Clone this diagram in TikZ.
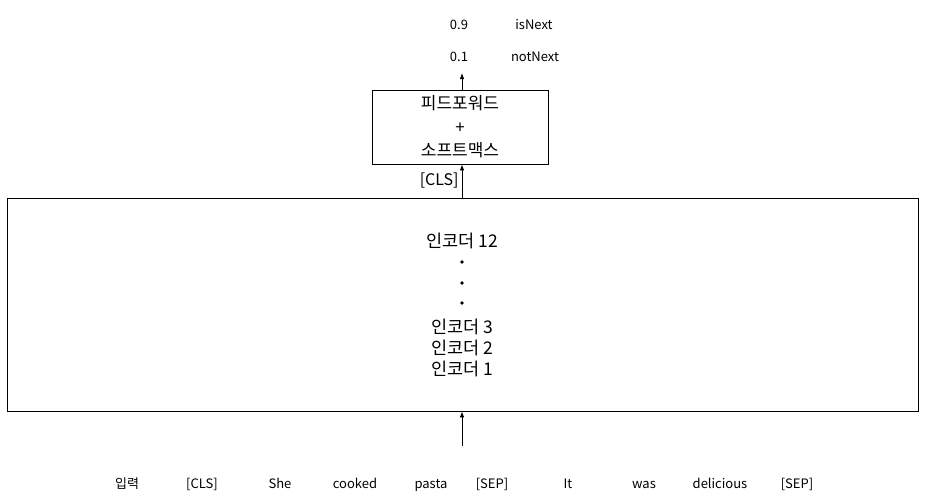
\documentclass[tikz,border=0pt]{standalone}
\usepackage{fontspec}
\setmainfont{Noto Sans CJK KR}
\usetikzlibrary{arrows.meta}

\begin{document}
\begin{tikzpicture}[x=1pt,y=-1pt,
    tok/.style={font=\fontsize{13}{15}\selectfont,inner sep=0pt,anchor=base},
    enclabel/.style={font=\fontsize{17.5}{20}\selectfont,inner sep=0pt},
    encdot/.style={circle,fill,inner sep=1.3pt},
    arr/.style={-{Latex[length=6pt,width=4.5pt]},line width=0.8pt}]
  \useasboundingbox (0,0) rectangle (927,501);

  % The encoder stack
  \node[draw,line width=0.8pt,minimum width=911pt,minimum height=213pt,inner sep=0pt] (encoder) at (462.5,304.5) {};
  \node[enclabel] (enc12) at (462,241) {인코더 12};
  \node[encdot] (dota) at (462,262) {};
  \node[encdot] (dotb) at (462,283) {};
  \node[encdot] (dotc) at (462,303) {};
  \node[enclabel] (enc3) at (462,327) {인코더 3};
  \node[enclabel] (enc2) at (462,348) {인코더 2};
  \node[enclabel] (enc1) at (462,369) {인코더 1};

  % Feed forward + softmax
  \node[draw,line width=0.8pt,minimum width=176pt,minimum height=74pt,inner sep=0pt,
        align=center,font=\fontsize{17}{23.5}\selectfont] (ffn) at (460,127) {피드포워드\\+\\소프트맥스};
  \draw[arr] (encoder.north -| ffn.south) ++(2,0) coordinate (clsfoot) -- (clsfoot |- ffn.south)
    node[midway,left=3pt,font=\fontsize{16}{18}\selectfont,inner sep=0pt] (cls) {[CLS]};

  % Output probabilities
  \node[tok] (p09) at (459,29) {0.9};
  \node[tok] (isnext) at (534,29) {isNext};
  \node[tok] (p01) at (459,61) {0.1};
  \node[tok] (notnext) at (535,61) {notNext};
  \coordinate (outtip) at (462,73);
  \draw[arr] (clsfoot |- ffn.north) -- (outtip);

  % Input tokens
  \coordinate (inbase) at (462,446);
  \draw[arr] (inbase) -- (inbase |- encoder.south);
  \foreach \name/\x/\word in {in0/127/입력, in1/202/{[CLS]}, in2/280/She, in3/355/cooked, in4/431/pasta,
      in5/492/{[SEP]}, in6/568/It, in7/644/was, in8/720/delicious, in9/797/{[SEP]}}
    \node[tok] (\name) at (\x,488) {\word};
\end{tikzpicture}
\end{document}
